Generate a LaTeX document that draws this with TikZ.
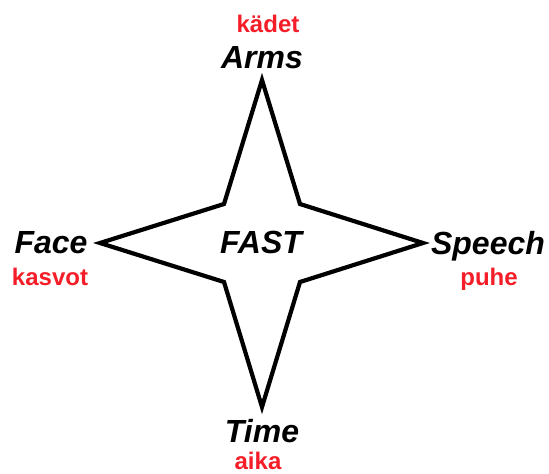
\documentclass[tikz,border=0pt]{standalone}
\usepackage{fontspec}
\setmainfont{Liberation Sans}
\usepackage{xcolor}
\usetikzlibrary{positioning}
\definecolor{finred}{RGB}{245,30,40}

\begin{document}
\begin{tikzpicture}[x=1pt, y=-1pt, line join=miter, font=\fontsize{32}{36}\selectfont\bfseries\itshape]
	\tikzstyle{word}=[inner sep=0pt, anchor=base, text=black]
	\tikzstyle{transl}=[inner sep=0pt, anchor=base, text=finred, font=\fontsize{24}{27}\selectfont\bfseries\upshape]
	\useasboundingbox (0,0) rectangle (549,474);

	% tips and inner corners of the star
	\coordinate (n) at (262,80);
	\coordinate (e) at (423,243);
	\coordinate (s) at (262,407);
	\coordinate (w) at (100,243);
	\coordinate (ne) at (300,204);
	\coordinate (se) at (300,282);
	\coordinate (sw) at (224,282);
	\coordinate (nw) at (224,204);

	\draw[line width=4.2pt] (n) -- (ne) -- (e) -- (se) -- (s) -- (sw) -- (w) -- (nw) -- cycle;

	\node[word] (fast) at (261,253) {FAST};

	\node[word] (arms) at (262,68) {Arms};
	\node[transl] (kadet) at (268,32) {kädet};
	\node[word] (face) at (51,253) {Face};
	\node[transl] (kasvot) at (50,285) {kasvot};
	\node[word] (speech) at (488,254) {Speech};
	\node[transl] (puhe) at (489,285) {puhe};
	\node[word] (time) at (262,442) {Time};
	\node[transl] (aika) at (258,469) {aika};
\end{tikzpicture}
\end{document}
